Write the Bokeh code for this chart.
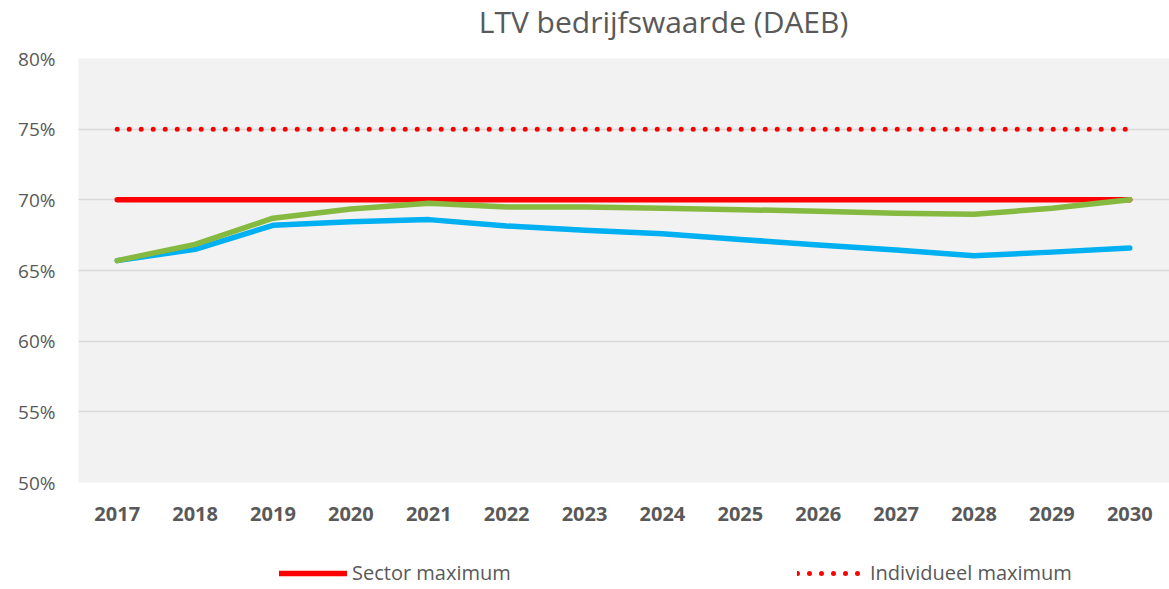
from bokeh.plotting import figure
from bokeh.layouts import column
from bokeh.models import Range1d, FixedTicker, Legend, LegendItem, CustomJSTickFormatter, Label
from bokeh.embed import file_html
from bokeh.resources import INLINE

years = [2017, 2018, 2019, 2020, 2021, 2022, 2023, 2024, 2025, 2026, 2027, 2028, 2029, 2030]
blue_ltv = [65.7, 66.5, 68.2, 68.45, 68.6, 68.15, 67.85, 67.6, 67.2, 66.8, 66.45, 66.05, 66.3, 66.6]
green_ltv = [65.7, 66.85, 68.7, 69.35, 69.75, 69.5, 69.5, 69.4, 69.3, 69.2, 69.05, 68.98, 69.4, 70.0]
sector_max = [70.0] * 14
individueel_max = [75.0] * 14
y_ticks = [50, 55, 60, 65, 70, 75, 80]
legend_labels = ["Sector maximum", "Individueel maximum"]
title_text = "LTV bedrijfswaarde (DAEB)"

FONT = "Open Sans"
GREY = "#595959"
RED = "#FF0000"

def strip(h, xr, yr):
    f = figure(width=1169, height=h, output_backend="svg", toolbar_location=None,
               x_range=xr, y_range=yr,
               min_border_left=78, min_border_right=0, min_border_top=0, min_border_bottom=0,
               outline_line_color=None, background_fill_color="white", border_fill_color="white")
    f.axis.visible = False
    f.grid.visible = False
    return f

# title strip (pixel coordinates: x across the page, y from the top)
tf = strip(45, Range1d(78, 1169), Range1d(45, 0))
tf.add_layout(Label(x=663, y=21, text=title_text, text_align="center", text_baseline="alphabetic",
                    text_font=FONT, text_font_size="30px", text_color=GREY))

p = figure(width=1169, height=500, output_backend="svg", toolbar_location=None,
           x_range=Range1d(2016.503, 2030.51), y_range=Range1d(50, 80),
           min_border_left=78, min_border_right=0, min_border_top=13, min_border_bottom=63,
           background_fill_color="#F2F2F2", border_fill_color="white", outline_line_color=None)

p.xgrid.grid_line_color = None
p.ygrid.grid_line_color = "#D9D9D9"
p.ygrid.grid_line_width = 1.5
p.yaxis.ticker = FixedTicker(ticks=y_ticks)
p.yaxis.formatter = CustomJSTickFormatter(code="return tick.toFixed(0) + '%';")
p.xaxis.ticker = FixedTicker(ticks=years)
p.xaxis.formatter = CustomJSTickFormatter(code="return tick.toFixed(0);")
for ax in (p.xaxis, p.yaxis):
    ax.axis_line_color = None
    ax.major_tick_line_color = None
    ax.minor_tick_line_color = None
    ax.major_label_text_font = FONT
    ax.major_label_text_color = GREY
p.yaxis.major_label_text_font_size = "19px"
p.yaxis.major_label_standoff = 17
p.xaxis.major_label_text_font_size = "20px"
p.xaxis.major_label_text_font_style = "bold"
p.xaxis.major_label_standoff = 18

p.line(years, individueel_max, line_color=RED, line_width=5, line_dash="0 12", line_cap="round")
p.line(years, sector_max, line_color=RED, line_width=5.5, line_cap="round")
p.line(years, blue_ltv, line_color="#00B0F0", line_width=5.5, line_cap="round", line_join="round")
p.line(years, green_ltv, line_color="#86B940", line_width=5.5, line_cap="round", line_join="round")

# legend strip below the chart (its lines lie outside its visible range; only the legend shows)
lf = strip(44, Range1d(0, 1), Range1d(0, 1))
l_sec = lf.line(years, sector_max, line_color=RED, line_width=5.5, line_cap="round")
l_dot = lf.line(years, individueel_max, line_color=RED, line_width=5, line_dash="0 12", line_cap="round")

lg = Legend(items=[LegendItem(label=legend_labels[0], renderers=[l_sec]),
                   LegendItem(label=legend_labels[1], renderers=[l_dot])],
            location=(201, 3), orientation="horizontal", glyph_width=68, glyph_height=20,
            label_standoff=5, label_width=210, spacing=235,
            padding=0, margin=0, border_line_color=None, background_fill_alpha=0,
            label_text_font=FONT, label_text_font_size="20px", label_text_color=GREY)
lf.add_layout(lg, "center")

open("out.html", "w").write(file_html(column(tf, p, lf, spacing=0), INLINE))
